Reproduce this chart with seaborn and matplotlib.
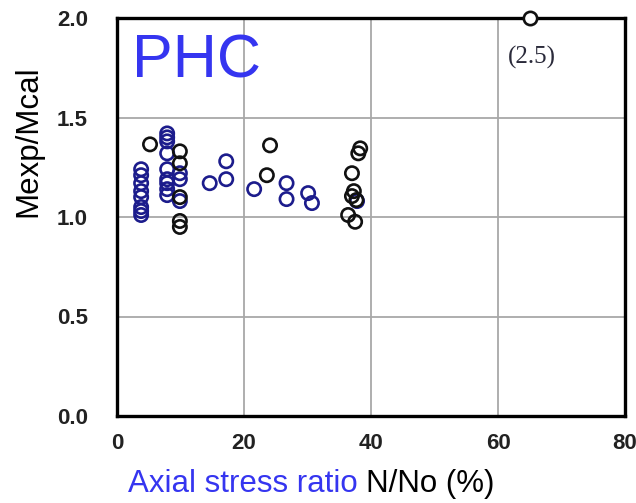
import matplotlib
matplotlib.use("Agg")
import matplotlib.pyplot as plt
import seaborn as sns
import pandas as pd

# ---- data ----
blue_x = [3.8, 3.8, 3.8, 3.8, 3.8, 3.8, 3.8, 3.8,
          7.9, 7.9, 7.9, 7.9, 7.9, 7.9, 7.9, 7.9, 7.9,
          9.9, 9.9, 9.9,
          14.6, 17.2, 17.2, 21.6, 26.7, 26.7, 30.1, 30.7, 37.8]
blue_y = [1.24, 1.21, 1.17, 1.13, 1.10, 1.05, 1.03, 1.01,
          1.42, 1.40, 1.38, 1.32, 1.24, 1.19, 1.17, 1.14, 1.11,
          1.22, 1.19, 1.08,
          1.17, 1.28, 1.19, 1.14, 1.17, 1.09, 1.12, 1.07, 1.08]
black_x = [5.2, 9.9, 9.9, 9.9, 9.9, 9.9,
           23.6, 24.1,
           38.3, 38.0, 37.0, 37.3, 37.0, 37.7, 36.4, 37.5]
black_y = [1.365, 1.33, 1.27, 1.10, 0.98, 0.95,
           1.21, 1.36,
           1.345, 1.32, 1.22, 1.13, 1.105, 1.085, 1.01, 0.976]
top_x = [65.0]
top_y = [2.0]
top_note = "(2.5)"
x_ticks = [0, 20, 40, 60, 80]
y_ticks = [0.0, 0.5, 1.0, 1.5, 2.0]

sns.set_theme(style="white")
plt.rcParams['font.family'] = ['Liberation Sans', 'DejaVu Sans']

W, H = 636, 503
fig = plt.figure(figsize=(W / 100, H / 100), dpi=100)
ax = fig.add_axes([117 / W, 1 - 416 / H, (625 - 117) / W, (416 - 18) / H])

navy = '#1c1c8c'
blk = '#111111'
bright_blue = '#3535f0'

dfb = pd.DataFrame({'x': blue_x, 'y': blue_y})
dfk = pd.DataFrame({'x': black_x, 'y': black_y})
dft = pd.DataFrame({'x': top_x, 'y': top_y})

ms = 92
lw = 1.9
sns.scatterplot(data=dfb, x='x', y='y', ax=ax, marker='o', s=ms,
                facecolors='none', edgecolor=navy, linewidth=lw, zorder=3)
sns.scatterplot(data=dfk, x='x', y='y', ax=ax, marker='o', s=ms,
                facecolors='none', edgecolor=blk, linewidth=lw, zorder=4)
sns.scatterplot(data=dft, x='x', y='y', ax=ax, marker='o', s=ms,
                facecolor='white', edgecolor=blk, linewidth=lw, zorder=5,
                clip_on=False)

ax.set_xlim(0, 80)
ax.set_ylim(0, 2.0)
ax.set_xticks(x_ticks)
ax.set_yticks(y_ticks)
ax.set_xticklabels([str(v) for v in x_ticks])
ax.set_yticklabels([f"{v:.1f}" for v in y_ticks])
ax.grid(True, color='#a8a8a8', linewidth=1.3)
ax.set_axisbelow(True)
for s in ax.spines.values():
    s.set_visible(True)
    s.set_color('black')
    s.set_linewidth(2.4)
ax.tick_params(axis='both', length=0, labelsize=16, colors='#222222')
ax.tick_params(axis='x', pad=12)
ax.tick_params(axis='y', pad=21)
for lab in ax.get_xticklabels() + ax.get_yticklabels():
    lab.set_fontweight('bold')
ax.set_xlabel('')
ax.set_ylabel('')

# annotations
ax.text(2.4, 1.70, 'PHC', color=bright_blue, fontsize=44, va='baseline', ha='left')
ax.text(65.4, 1.80, top_note, fontsize=18, family=['Liberation Serif', 'DejaVu Serif'],
        color='#2a2a3a', ha='center', va='center')

# axis labels
fig.text(28 / W, 1 - 141 / H, 'Mexp/Mcal', rotation=90, fontsize=22.5,
         color='black', ha='center', va='center')
fig.canvas.draw()
r = fig.canvas.get_renderer()
t1 = fig.text(128 / W, 1 - 484 / H, 'Axial stress ratio ', fontsize=22.5,
              color=bright_blue, ha='left', va='center')
bb = t1.get_window_extent(renderer=r)
fig.text(bb.x1 / W, 1 - 484 / H, 'N/No (%)', fontsize=22.5,
         color='black', ha='left', va='center')

fig.savefig('out.png', dpi=100)
